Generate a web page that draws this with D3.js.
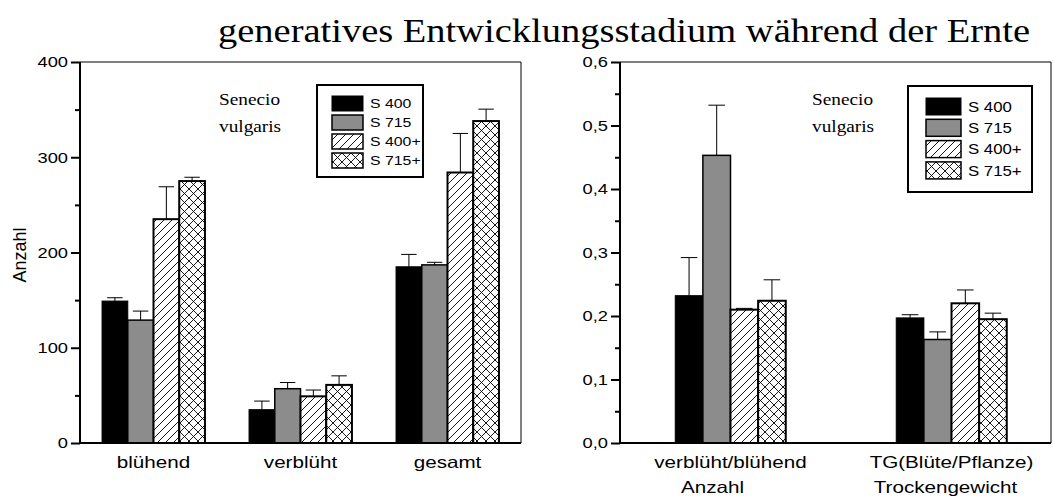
<html>
<head>
<script src="https://d3js.org/d3.v7.min.js"></script>
<style>
  body { margin: 0; background: #fff; }
</style>
</head>
<body>
<script>
// data
var series = ["S 400", "S 715", "S 400+", "S 715+"];

var groupsLeft = ["blühend", "verblüht", "gesamt"];
var meanLeft = [[149, 35, 185], [129, 57, 187], [235, 49, 284], [275, 61, 338]];
var errLeft  = [[3.5, 9, 13], [9.5, 6.5, 2.7], [34, 6.6, 41], [4, 9.5, 12.5]];
var ticksLeft = [0, 100, 200, 300, 400];
var minorLeft = [50, 150, 250, 350];

var groupsRight = ["verblüht/blühend", "TG(Blüte/Pflanze)"];
var subLabelsRight = ["Anzahl", "Trockengewicht"];
var meanRight = [[0.232, 0.197], [0.453, 0.163], [0.210, 0.220], [0.224, 0.195]];
var errRight  = [[0.060, 0.005], [0.079, 0.012], [0.002, 0.021], [0.033, 0.0095]];
var ticksRight = [0, 0.1, 0.2, 0.3, 0.4, 0.5, 0.6];
var minorRight = [0.05, 0.15, 0.25, 0.35, 0.45, 0.55];

var W = 1053, H = 497;
var svg = d3.select("body").append("svg").attr("width", W).attr("height", H);

var sans = "'Liberation Sans', Arial, sans-serif";
var serif = "'Liberation Serif', 'Times New Roman', serif";

// the original figure is stretched sideways, so text gets a horizontal scale
function stext(parent, x, y, str, font, size, sx, anchor) {
    return parent.append("text")
        .attr("transform", "translate(" + x + "," + y + ") scale(" + sx + ",1)")
        .attr("text-anchor", anchor || "start")
        .attr("font-family", font).attr("font-size", size)
        .text(str);
}

// fill patterns
var defs = svg.append("defs");
var p1 = defs.append("pattern").attr("id", "hatch").attr("patternUnits", "userSpaceOnUse")
    .attr("width", 8).attr("height", 8);
p1.append("rect").attr("width", 8).attr("height", 8).attr("fill", "#fff");
p1.append("path").attr("d", "M-2,2L2,-2M0,8L8,0M6,10L10,6").attr("stroke", "#000").attr("stroke-width", 0.9);
var p2 = defs.append("pattern").attr("id", "cross").attr("patternUnits", "userSpaceOnUse")
    .attr("width", 9).attr("height", 9);
p2.append("rect").attr("width", 9).attr("height", 9).attr("fill", "#fff");
p2.append("path").attr("d", "M-2,2L2,-2M0,9L9,0M7,11L11,7M-2,7L2,11M0,0L9,9M7,-2L11,2")
    .attr("stroke", "#000").attr("stroke-width", 0.9);

var fills = ["#000", "#8c8c8c", "url(#hatch)", "url(#cross)"];
var strokeW = [1, 1.5, 2, 2];

// title
svg.append("text").attr("x", 218).attr("y", 42)
    .attr("font-family", serif).attr("font-size", 33)
    .attr("textLength", 812).attr("lengthAdjust", "spacingAndGlyphs")
    .text("generatives Entwicklungsstadium während der Ernte");

function panel(o) {
    var x = d3.scaleBand().domain(o.groups).range(o.xr).paddingInner(o.pi).paddingOuter(o.po);
    var xs = d3.scaleBand().domain(series).range([0, x.bandwidth()]);
    var y = d3.scaleLinear().domain(o.yd).range([443, 62]);
    var g = svg.append("g");

    // frame: top and right thin
    g.append("path").attr("d", "M" + o.left + "," + y(o.yd[1]) + "H" + o.right + "V" + y(0))
        .attr("fill", "none").attr("stroke", "#000").attr("stroke-width", 1);

    // bars
    series.forEach(function(s, i) {
        o.groups.forEach(function(gr, j) {
            var v = o.mean[i][j], e = o.err[i][j];
            var bx = x(gr) + xs(s), bw = xs.bandwidth();
            g.append("line").attr("x1", bx + bw / 2).attr("x2", bx + bw / 2)
                .attr("y1", y(v)).attr("y2", y(v + e)).attr("stroke", "#000");
            g.append("line").attr("x1", bx + bw * 0.2).attr("x2", bx + bw * 0.8)
                .attr("y1", y(v + e)).attr("y2", y(v + e)).attr("stroke", "#000");
            g.append("rect").attr("x", bx).attr("y", y(v))
                .attr("width", bw).attr("height", y(0) - y(v))
                .attr("fill", fills[i]).attr("stroke", "#000").attr("stroke-width", strokeW[i]);
        });
    });

    // y axis
    var ax = g.append("g").attr("transform", "translate(" + o.left + ",0)")
        .call(d3.axisLeft(y).tickValues(o.ticks).tickSize(9).tickSizeOuter(0).tickFormat(o.fmt));
    ax.select(".domain").remove();
    ax.selectAll(".tick line").attr("stroke-width", 2);
    ax.selectAll(".tick text").attr("font-size", 15).attr("font-family", sans).attr("fill", "#000")
        .attr("x", -12 / 1.22).attr("transform", "scale(1.22,1)");
    var mn = g.append("g").attr("transform", "translate(" + o.left + ",0)")
        .call(d3.axisLeft(y).tickValues(o.minor).tickSize(5).tickFormat(""));
    mn.select(".domain").remove();
    mn.selectAll(".tick line").attr("stroke-width", 2);

    // axis lines, thick
    g.append("path").attr("d", "M" + o.left + "," + y(o.yd[1]) + "V" + y(0) + "H" + o.right)
        .attr("fill", "none").attr("stroke", "#000").attr("stroke-width", 2);

    // category labels
    o.groups.forEach(function(gr, j) {
        var cx = x(gr) + x.bandwidth() / 2;
        stext(g, cx, 468, gr, sans, 16.5, 1.25, "middle");
        if (o.sub) stext(g, cx - o.subShift[j], 493, o.sub[j], sans, 16.5, 1.25, "middle");
    });

    // species label
    stext(g, o.spX, 105, "Senecio", serif, 16.5, 1.17);
    stext(g, o.spX, 132, "vulgaris", serif, 16.5, 1.17);

    // legend
    var L = o.leg;
    g.append("rect").attr("x", L.x).attr("y", L.y).attr("width", L.w).attr("height", L.h)
        .attr("fill", "#fff").attr("stroke", "#000").attr("stroke-width", 2);
    series.forEach(function(s, i) {
        var ry = L.y + L.top + i * L.step;
        g.append("rect").attr("x", L.x + L.pad).attr("y", ry).attr("width", L.sw).attr("height", L.sh)
            .attr("fill", fills[i]).attr("stroke", "#000").attr("stroke-width", i == 0 ? 1 : 1.5);
        stext(g, L.x + L.pad + L.sw + 7, ry + L.sh / 2 + L.fs * 0.35, s, sans, L.fs, L.sx);
    });
}

panel({
    groups: groupsLeft, mean: meanLeft, err: errLeft, ticks: ticksLeft, minor: minorLeft,
    xr: [80, 521], pi: 0.3, po: 0.15, yd: [0, 400], left: 80, right: 521,
    fmt: d3.format("d"), spX: 219,
    leg: {x: 317, y: 85, w: 106, h: 92, pad: 15, top: 11, step: 19, sw: 31, sh: 15, fs: 13, sx: 1.22}
});

panel({
    groups: groupsRight, mean: meanRight, err: errRight, ticks: ticksRight, minor: minorRight,
    xr: [620, 1062], pi: 0.5, po: 0.25, yd: [0, 0.6], left: 620, right: 1051,
    fmt: function(d) { return d3.format(".1f")(d).replace(".", ","); }, spX: 812,
    sub: subLabelsRight, subShift: [18, 6],
    leg: {x: 908, y: 86, w: 124, h: 106, pad: 18, top: 12, step: 21.3, sw: 35, sh: 17, fs: 15, sx: 1.12}
});

// y axis title
svg.append("text").attr("transform", "translate(26,255) rotate(-90)")
    .attr("text-anchor", "middle").attr("font-family", sans).attr("font-size", 18)
    .text("Anzahl");
</script>
</body>
</html>
